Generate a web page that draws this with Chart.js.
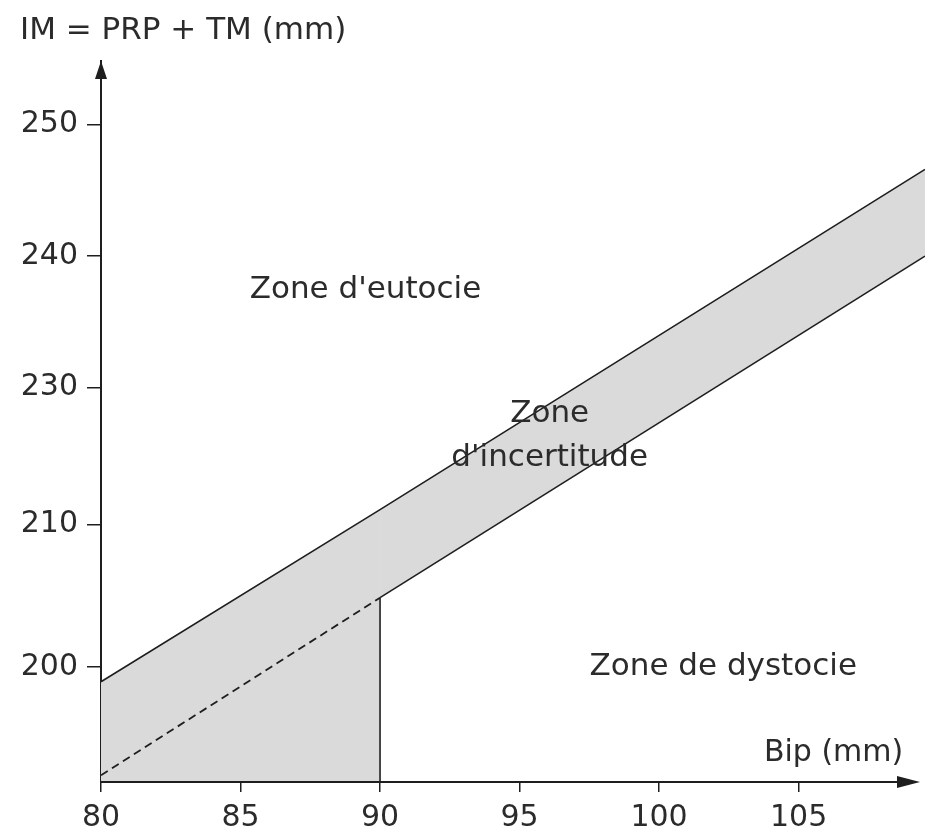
<!DOCTYPE html>
<html>
<head>
<meta charset="utf-8">
<script src="https://cdn.jsdelivr.net/npm/chart.js@4.4.0/dist/chart.umd.min.js"></script>
<style>
html,body{margin:0;padding:0;background:#fff;}
#wrap{width:925px;height:836px;position:relative;}
</style>
</head>
<body>
<div id="wrap"><canvas id="c"></canvas></div>
<script>
// ---- data ----
const xTickValues = [80, 85, 90, 95, 100, 105];
const yTickLabels = ['200', '210', '230', '240', '250'];
// the printed IM axis is schematic (220 is skipped): position of each label along it
const yTickPositions = [0, 1.05, 2.06, 3.03, 4];

const upperX = [80, 90, 109.53];
const upperY = [-0.11, 1.16, 3.67];
const lowerX = [90, 109.53];
const lowerY = [0.51, 3.03];
const dashedX = [80, 90];
const dashedY = [-0.80, 0.51];
const limitX = [90, 90];
const limitY = [-0.85, 0.51];

const zoneTexts = ["Zone d'eutocie", "Zone", "d'incertitude", "Zone de dystocie"];

// ---- layout / style ----
const X_MIN = 80, X_MAX = 109.53, Y_MIN = -0.85, Y_MAX = 4.47;
const FONT = '"DejaVu Sans", sans-serif';
const TXT = '#2b2b2b';
const LINE = '#1e1e1e';
const BAND = '#dadada';
const textAnchors = [
  {x: 89.48, y: 2.723},
  {x: 96.08, y: 1.805},
  {x: 96.08, y: 1.48},
  {x: 102.3, y: -0.059}
];

const pts = (xs, ys) => xs.map((x, i) => ({x: x, y: ys[i]}));

const decor = {
  id: 'decor',
  afterDraw(chart) {
    const ctx = chart.ctx, a = chart.chartArea;
    const xs = chart.scales.x, ys = chart.scales.y;
    ctx.save();
    // x axis line with arrow
    ctx.strokeStyle = LINE; ctx.fillStyle = LINE; ctx.lineWidth = 2;
    const tipX = 920, yb = a.bottom;
    ctx.beginPath(); ctx.moveTo(a.left, yb); ctx.lineTo(tipX - 8, yb); ctx.stroke();
    ctx.beginPath(); ctx.moveTo(tipX, yb); ctx.lineTo(tipX - 23, yb - 6); ctx.lineTo(tipX - 23, yb + 6); ctx.closePath(); ctx.fill();
    // y axis arrow
    ctx.beginPath(); ctx.moveTo(a.left, a.top); ctx.lineTo(a.left - 6, a.top + 18); ctx.lineTo(a.left + 6, a.top + 18); ctx.closePath(); ctx.fill();
    // zone labels
    ctx.fillStyle = TXT;
    ctx.font = '31px ' + FONT;
    ctx.textAlign = 'center'; ctx.textBaseline = 'alphabetic';
    zoneTexts.forEach((t, i) => {
      ctx.fillText(t, xs.getPixelForValue(textAnchors[i].x), ys.getPixelForValue(textAnchors[i].y));
    });
    // axis titles
    ctx.font = '30px ' + FONT;
    ctx.textAlign = 'right';
    ctx.fillText('Bip (mm)', xs.getPixelForValue(108.75), ys.getPixelForValue(-0.694));
    ctx.font = '31px ' + FONT;
    ctx.textAlign = 'left';
    ctx.fillText('IM = PRP + TM (mm)', a.left - 81, a.top - 22);
    ctx.restore();
  }
};

new Chart(document.getElementById('c'), {
  type: 'line',
  data: {
    datasets: [
      { // upper boundary line
        data: pts(upperX, upperY), borderColor: LINE, borderWidth: 1.6,
        pointRadius: 0, fill: false, order: 0
      },
      { // lower boundary line (solid)
        data: pts(lowerX, lowerY), borderColor: LINE, borderWidth: 1.6,
        pointRadius: 0, fill: false, order: 0
      },
      { // dashed extension
        data: pts(dashedX, dashedY), borderColor: LINE, borderWidth: 1.8,
        borderDash: [8, 5], pointRadius: 0, fill: false, order: 0
      },
      { // vertical limit at 90
        data: pts(limitX, limitY), borderColor: LINE, borderWidth: 1.6,
        pointRadius: 0, fill: false, order: 0
      },
      { // band fill 80-90 (down to axis)
        data: pts(upperX.slice(0, 2), upperY.slice(0, 2)), borderWidth: 0,
        borderColor: 'rgba(0,0,0,0)', backgroundColor: BAND, pointRadius: 0,
        fill: 'start', order: 2
      },
      { // band fill 90+ (between lines)
        data: pts(upperX.slice(1), upperY.slice(1)), borderWidth: 0,
        borderColor: 'rgba(0,0,0,0)', backgroundColor: BAND, pointRadius: 0,
        fill: {target: 1}, order: 2
      }
    ]
  },
  options: {
    responsive: true,
    maintainAspectRatio: false,
    animation: false,
    layout: {padding: {top: 61, right: 0, left: 0, bottom: 0}},
    plugins: {
      legend: {display: false},
      tooltip: {enabled: false},
      filler: {drawTime: 'beforeDatasetsDraw'}
    },
    scales: {
      x: {
        type: 'linear', min: X_MIN, max: X_MAX,
        afterBuildTicks: s => { s.ticks = xTickValues.map(v => ({value: v})); },
        afterFit: s => { s.height = 54; },
        border: {display: false},
        grid: {drawOnChartArea: false, drawTicks: true, tickLength: 10, color: LINE, lineWidth: 1.5},
        ticks: {autoSkip: false, maxRotation: 0, padding: 8, color: TXT, font: {family: FONT, size: 30},
                callback: v => String(v)}
      },
      y: {
        type: 'linear', min: Y_MIN, max: Y_MAX,
        afterBuildTicks: s => { s.ticks = yTickPositions.map(v => ({value: v})); },
        afterFit: s => { s.width = 101; },
        border: {display: true, color: LINE, width: 2},
        grid: {drawOnChartArea: false, drawTicks: true, tickLength: 14, color: LINE, lineWidth: 1.5},
        ticks: {autoSkip: false, padding: 9, color: TXT, font: {family: FONT, size: 30},
                callback: (v, i) => yTickLabels[i]}
      }
    }
  },
  plugins: [decor]
});
</script>
</body>
</html>
